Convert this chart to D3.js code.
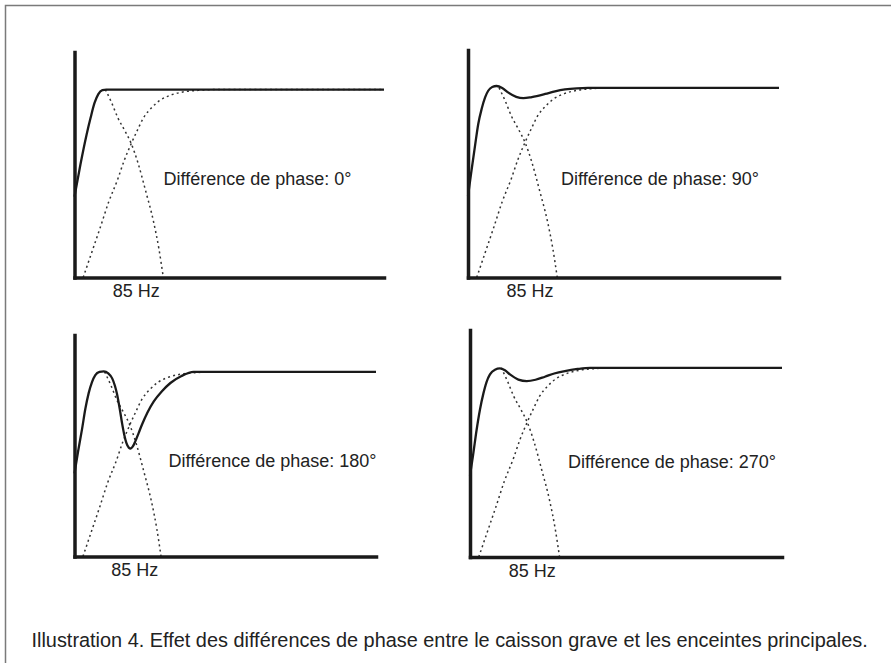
<!DOCTYPE html>
<html>
<head>
<meta charset="utf-8">
<script src="https://cdn.jsdelivr.net/npm/d3@7"></script>
<style>
  body { margin: 0; background: #fff; }
  svg { display: block; }
  .domain { stroke: #1a1a1a; stroke-width: 3.5; stroke-linecap: square; }
  .sum-line { fill: none; stroke: #1a1a1a; stroke-width: 2.3; }
  .part-line { fill: none; stroke: #333; stroke-width: 1.5; stroke-dasharray: 2 3.2; }
  text { font-family: "Liberation Sans", Arial, Helvetica, sans-serif; fill: #222; }
</style>
</head>
<body>
<div class="chart"></div>
<script>
const FRAME_WIDTH = 891;
const FRAME_HEIGHT = 663;

// frequency axis (arbitrary units, log-ish) and level (%), plateau = 100
const X_DOMAIN = [0, 100];
const Y_DOMAIN = [0, 120];
const CROSSOVER = 19.8;          // where the "85 Hz" label sits
const CROSSOVER_LABEL = "85 Hz";

const PHASES = ["0°", "90°", "180°", "270°"];

// subwoofer (low pass) and main speakers (high pass), same in every panel
const LOWPASS = [[10, 100], [12, 93], [14, 85], [16.3, 78], [18.4, 71], [20.5, 61],
                 [23, 46], [25.5, 30], [27.3, 15], [28.7, 0]];
const HIGHPASS = [[2.8, 0], [5.5, 13], [8.4, 27], [11, 40], [13.9, 52], [16, 62],
                  [18.4, 71.5], [20.5, 79], [22.3, 85], [25, 90.5], [27.7, 94.4],
                  [31, 97], [35, 98.7], [40, 99.6], [46, 100], [100, 100]];

// summed response for each phase difference
const SUM_0 = [[0, 43], [1.9, 60], [3.9, 76], [5.2, 85], [6.5, 93], [7.7, 97.6],
               [9, 99.7], [10.3, 100], [100, 100]];
const SUM_90 = [[0, 43], [1, 55], [2.3, 70], [3.3, 81], [4.4, 89], [5.5, 95],
                [6.5, 98.5], [7.8, 100.5], [9.2, 101], [11, 100], [13, 97.5],
                [15.5, 95.3], [17.8, 94.6], [20.5, 95.2], [24.8, 96.8], [28, 98.2],
                [31.2, 99.2], [35, 99.8], [38.6, 100], [100, 100]];
const SUM_180 = [[0, 45], [1.2, 57], [2.5, 69], [3.6, 80], [4.7, 88.5], [5.8, 94.5],
                 [6.9, 98.3], [8.3, 100], [9.7, 100.3], [11.2, 99.2], [12.5, 96.5],
                 [13.4, 92.5], [14.1, 88], [15, 80], [15.8, 72], [16.5, 66],
                 [17.2, 61.5], [18, 59], [18.6, 58.5], [19.3, 59.5], [20.2, 62.5],
                 [21.3, 67], [22.4, 71.5], [24.2, 78], [26.3, 84], [29, 89.5],
                 [31.8, 94], [35.5, 97.8], [39.5, 100], [100, 100]];
const SUM_270 = [[0, 43], [1, 54], [2.1, 67], [3.2, 78], [4.3, 86.5], [5.3, 92.5],
                 [6.4, 96.5], [8, 99], [9.6, 99.7], [11.2, 98.7], [12.8, 96.5],
                 [15.5, 93.8], [18.2, 93], [21, 93.7], [24, 95.3], [27, 97],
                 [30.4, 98.3], [34.5, 99.4], [38.5, 100], [100, 100]];
const SUMS = [SUM_0, SUM_90, SUM_180, SUM_270];

const CAPTION = "Illustration 4. Effet des différences de phase entre le caisson grave et les enceintes principales.";

// panel boxes and label offsets (pixels)
const PANELS = [
    {left: 74.5, right: 384, top: 52, bottom: 277.5, tx: 89, ty: -93},
    {left: 468, right: 779, top: 50, bottom: 277.5, tx: 93, ty: -93},
    {left: 74.5, right: 376, top: 335, bottom: 556.5, tx: 94, ty: -90},
    {left: 470, right: 782, top: 330, bottom: 557, tx: 98, ty: -89}
];

const FRAME = d3.select(".chart")
                .append("svg")
                .attr("width", FRAME_WIDTH)
                .attr("height", FRAME_HEIGHT);

// outer border (runs off the right and bottom edges)
FRAME.append("rect")
    .attr("x", 5.5)
    .attr("y", 5.5)
    .attr("width", 920)
    .attr("height", 720)
    .attr("fill", "none")
    .attr("stroke", "#7a7a7a")
    .attr("stroke-width", 1.5);

PANELS.forEach((p, i) => {
    const X_SCALE = d3.scaleLinear()
                        .domain(X_DOMAIN)
                        .range([p.left, p.right]);
    const Y_SCALE = d3.scaleLinear()
                        .domain(Y_DOMAIN)
                        .range([p.bottom, p.top]);

    const line = d3.line()
                    .x(d => X_SCALE(d[0]))
                    .y(d => Y_SCALE(d[1]))
                    .curve(d3.curveMonotoneX);

    const g = FRAME.append("g").attr("class", "panel");

    g.append("path").datum(LOWPASS).attr("class", "part-line").attr("d", line);
    g.append("path").datum(HIGHPASS).attr("class", "part-line").attr("d", line);
    g.append("path").datum(SUMS[i]).attr("class", "sum-line").attr("d", line);

    g.append("g")
        .attr("transform", "translate(" + p.left + ",0)")
        .call(d3.axisLeft(Y_SCALE).tickValues([]).tickSizeOuter(0));

    const xAxis = g.append("g")
        .attr("transform", "translate(0," + p.bottom + ")")
        .call(d3.axisBottom(X_SCALE)
                .tickValues([CROSSOVER])
                .tickFormat(() => CROSSOVER_LABEL)
                .tickSize(0)
                .tickSizeOuter(0)
                .tickPadding(7));
    xAxis.selectAll("text")
        .attr("font-size", "18px")
        .attr("font-family", null)
        .attr("fill", "#222");

    g.append("text")
        .attr("x", p.left + p.tx)
        .attr("y", p.bottom + p.ty)
        .attr("font-size", "18px")
        .text("Différence de phase: " + PHASES[i]);
});

FRAME.append("text")
    .attr("x", 31.5)
    .attr("y", 646.5)
    .attr("font-size", "19.9px")
    .attr("fill", "#2a2a2a")
    .text(CAPTION);
</script>
</body>
</html>
